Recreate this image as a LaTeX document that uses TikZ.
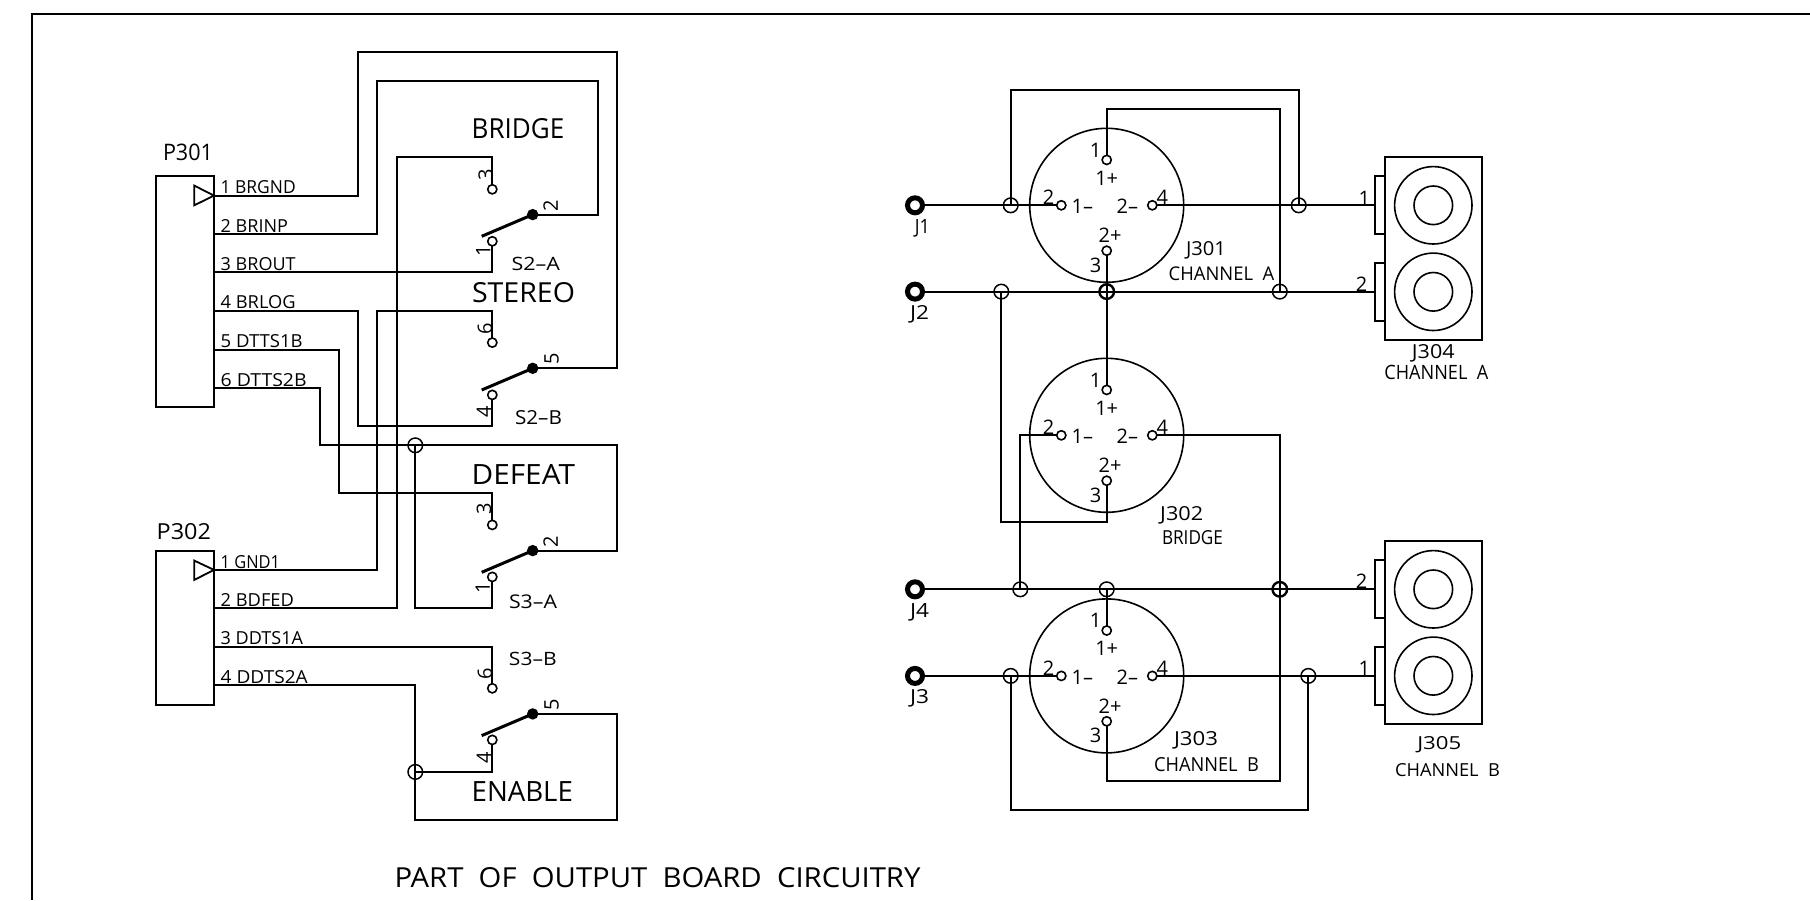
\documentclass[tikz,border=0pt]{standalone}
\usepackage{fontspec}
\usepackage{graphicx}
\setmainfont{Open Sans}
\newdimen\pxu \pxu=.5pt
\tikzset{
  wire/.style={line width=.9pt,line join=miter},
  box/.style={draw,line width=.9pt,rectangle,inner sep=0pt,outer sep=0pt},
  pin/.style={draw,line width=.8pt,circle,inner sep=0pt,outer sep=0pt,minimum size=9.2\pxu},
  jct/.style={draw,line width=.75pt,circle,inner sep=0pt,outer sep=0pt,minimum size=14.6\pxu},
  jctb/.style={jct,line width=1.2pt},
  sdot/.style={draw,fill=black,circle,inner sep=0pt,outer sep=0pt,minimum size=9.5\pxu},
  ring/.style={draw,line width=2.5pt,circle,inner sep=0pt,outer sep=0pt,minimum size=15\pxu},
  blade/.style={line width=1.5pt},
  plain/.style={inner sep=0pt,outer sep=0pt},
  digit/.style={plain,font=\fontsize{10}{10}\selectfont},
}
% fitted text: name, x, y, width, height, text
\newcommand{\TC}[6]{\node[plain] (#1) at (#2,#3) {\resizebox{#4\pxu}{#5\pxu}{#6}};}
\newcommand{\TL}[5]{\node[plain,anchor=south west] (#1) at (220.7,#2) {\resizebox{#3\pxu}{#4\pxu}{#5}};}
% XLR connector: name, centre y
\newcommand{\XLR}[2]{
  \node[draw,line width=.8pt,circle,inner sep=0pt,outer sep=0pt,minimum size=154\pxu] (#1) at (1106.7,#2) {};
  \node[pin] (#1-p1) at (1106.7,{#2-45.4}) {};
  \node[pin] (#1-p2) at (1061.3,#2) {};
  \node[pin] (#1-p3) at (1106.7,{#2+45.4}) {};
  \node[pin] (#1-p4) at (1152.3,#2) {};
  \node[digit] (#1-n1) at (1095.7,{#2-55.4}) {1};
  \node[digit] (#1-n2) at (1048.7,{#2-8}) {2};
  \node[digit] (#1-n3) at (1095.7,{#2+59.6}) {3};
  \node[digit] (#1-n4) at (1162.3,{#2-8}) {4};
  \node[digit] (#1-l1) at (1106.7,{#2-27.4}) {1+};
  \node[digit] (#1-l2) at (1082.3,{#2+1.3}) {1–};
  \node[digit] (#1-l3) at (1127.3,{#2+1.3}) {2–};
  \node[digit] (#1-l4) at (1110,{#2+30.3}) {2+};
}
% double phono jack: name, top y
\newcommand{\JACK}[2]{
  \node[box,minimum width=96.7\pxu,minimum height=183\pxu] (#1) at (1433.3,{#2+91.5}) {};
  \node[box,minimum width=9.7\pxu,minimum height=58\pxu] (#1-t1) at (1380.2,{#2+48.2}) {};
  \node[box,minimum width=9.7\pxu,minimum height=58\pxu] (#1-t2) at (1380.2,{#2+134.7}) {};
  \node[draw,line width=.8pt,circle,inner sep=0pt,minimum size=77.4\pxu] (#1-a) at (1433.3,{#2+48.2}) {};
  \node[draw,line width=.8pt,circle,inner sep=0pt,minimum size=38.6\pxu] (#1-b) at (1433.3,{#2+48.2}) {};
  \node[draw,line width=.8pt,circle,inner sep=0pt,minimum size=77.4\pxu] (#1-c) at (1433.3,{#2+134.7}) {};
  \node[draw,line width=.8pt,circle,inner sep=0pt,minimum size=38.6\pxu] (#1-d) at (1433.3,{#2+134.7}) {};
}
% switch section: prefix, y of pin top, y of pin bottom, y of dot
\newcommand{\SW}[4]{
  \node[pin] (#1-nc) at (492.3,#2) {};
  \node[pin] (#1-no) at (492.3,#3) {};
  \node[sdot] (#1-dot) at (532.7,#4) {};
  \coordinate (#1-bl) at (481.7,{#4+21.7});
  \draw[blade] (#1-bl) -- (#1-dot.center);
}
\begin{document}
\begin{tikzpicture}[x=.5pt,y=-.5pt,wire]
\useasboundingbox (0,-0.6) rectangle (1810,899.4);
\fill[white] (0,-0.6) rectangle (1810,899.4);
% frame
\coordinate (fa) at (32,899.4); \coordinate (fb) at (32,13); \coordinate (fc) at (1810,13);
\draw[line width=1pt] (fa) -- (fb) -- (fc);

% ---------- left part ----------
\node[box,minimum width=58\pxu,minimum height=230.6\pxu] (P301) at (185,291) {};
\node[box,minimum width=58\pxu,minimum height=154\pxu] (P302) at (185,627) {};
\coordinate (A1) at (214,195); \coordinate (A2) at (214,233.3); \coordinate (A3) at (214,271.7);
\coordinate (A4) at (214,310.3); \coordinate (A5) at (214,349); \coordinate (A6) at (214,387);
\coordinate (B1) at (214,569.3); \coordinate (B2) at (214,607.7); \coordinate (B3) at (214,646.3); \coordinate (B4) at (214,684.7);
\draw (194.3,185) -- (A1) -- (194.3,204.7) -- cycle;
\draw (194.3,560) -- (B1) -- (194.3,579.3) -- cycle;

\SW{S2A}{188.7}{240.7}{214}
\SW{S2B}{342}{394.3}{367.7}
\SW{S3A}{524.3}{576.3}{550}
\SW{S3B}{687.7}{739.3}{713.3}
\node[jct] (J-a) at (415.3,444.7) {};
\node[jct] (J-b) at (415.3,771.3) {};

\draw (A1) -| (358,51) -| (617.3,367.7) -- (S2B-dot.center);
\draw (A2) -| (377.3,80) -| (598,214) -- (S2A-dot.center);
\draw (A3) -| (S2A-no.south);
\draw (B2) -| (396.7,156.7) -| (S2A-nc.north);
\draw (A4) -| (358,425.7) -| (S2B-no.south);
\draw (B1) -| (377.3,310.3) -| (S2B-nc.north);
\draw (A5) -| (339,492.3) -| (S3A-nc.north);
\draw (A6) -| (320,444.7) -| (617.3,550) -- (S3A-dot.center);
\draw (J-a.center) |- (492.3,607.7) -- (S3A-no.south);
\draw (B3) -| (S3B-nc.north);
\draw (B4) -| (415.3,819) -| (617.3,713.3) -- (S3B-dot.center);
\draw (J-b.center) -| (S3B-no.south);

\TC{tP301}{188}{151.5}{50}{16.5}{P301}
\TC{tP302}{183.8}{530.7}{54.3}{16}{P302}
\TL{a1}{193.3}{75}{13}{1 BRGND}
\TL{a2}{231.7}{67.3}{13}{2 BRINP}
\TL{a3}{270}{75}{13}{3 BROUT}
\TL{a4}{308}{75}{13}{4 BRLOG}
\TL{a5}{346.7}{82}{13}{5 DTTS1B}
\TL{a6}{385.7}{86}{13}{6 DTTS2B}
\TL{b1}{568.3}{59.3}{13}{1 GND1}
\TL{b2}{606}{73.3}{13}{2 BDFED}
\TL{b3}{644}{82.3}{13}{3 DDTS1A}
\TL{b4}{682.7}{87}{13}{4 DDTS2A}
\TC{tBr}{518}{128}{92.6}{20}{BRIDGE}
\TC{tSt}{523.5}{291.7}{103}{20}{STEREO}
\TC{tDe}{523.3}{473.8}{103.3}{20}{DEFEAT}
\TC{tEn}{522.3}{790.7}{101.3}{20}{ENABLE}
\TC{tS2A}{535.8}{263.3}{48.3}{13.3}{S2–A}
\TC{tS2B}{538.5}{417}{47}{14}{S2–B}
\TC{tS3A}{533}{600.8}{48}{13.7}{S3–A}
\TC{tS3B}{532.8}{658.3}{47.7}{13.3}{S3–B}
\TC{tTitle}{657.5}{877.2}{526}{20}{PART\ \ OF\ \ OUTPUT\ \ BOARD\ \ CIRCUITRY}
% rotated pin numbers
\node[digit,rotate=90] (s1) at (485.7,174) {3};
\node[digit,rotate=90] (s2) at (550.7,205) {2};
\node[digit,rotate=90] (s3) at (483.3,250) {1};
\node[digit,rotate=90] (s4) at (485,327.7) {6};
\node[digit,rotate=90] (s5) at (551.7,358.3) {5};
\node[digit,rotate=90] (s6) at (484,411) {4};
\node[digit,rotate=90] (s7) at (484,508.3) {3};
\node[digit,rotate=90] (s8) at (550.7,541) {2};
\node[digit,rotate=90] (s9) at (482.7,586.7) {1};
\node[digit,rotate=90] (s10) at (485,673.3) {6};
\node[digit,rotate=90] (s11) at (551.7,704.3) {5};
\node[digit,rotate=90] (s12) at (484,756.7) {4};

% ---------- right part ----------
\XLR{X1}{204.7}
\XLR{X2}{434.7}
\XLR{X3}{675.3}
\JACK{J304}{156.5}
\JACK{J305}{540.5}
\node[ring] (J1) at (915,204.7) {};
\node[ring] (J2) at (915,291) {};
\node[ring] (J4) at (915,588.7) {};
\node[ring] (J3) at (915,675.3) {};
\node[jct] (c1) at (1010.7,204.7) {};
\node[jct] (c2) at (1298.7,204.7) {};
\node[jct] (c3) at (1001.3,291) {};
\node[jctb] (c4) at (1106.7,291) {};
\node[jct] (c5) at (1279.8,291) {};
\node[jct] (c6) at (1020.3,588.7) {};
\node[jct] (c7) at (1106.7,588.7) {};
\node[jctb] (c8) at (1279.8,588.7) {};
\node[jct] (c9) at (1010.7,675.3) {};
\node[jct] (c10) at (1308.3,675.3) {};

\draw (J1.east) -- (X1-p2.west);
\draw (X1-p4.east) -- (X1-p4.east -| J304-t1.west);
\draw (c1.center) |- (1298.7,89.7) -- (c2.center);
\draw (X1-p1.north) |- (1279.8,108.3) -- (c5.center);
\draw (X1-p3.south) -- (X2-p1.north);
\draw (J2.east) -- (J2.east -| J304-t2.west);
\draw (c3.center) |- (1106.7,521.3) -- (X2-p3.south);
\draw (X2-p2.west) -| (c6.center);
\draw (X2-p4.east) -| (1279.8,780) -| (X3-p3.south);
\draw (J4.east) -- (J4.east -| J305-t1.west);
\draw (c7.center) -- (X3-p1.north);
\draw (J3.east) -- (X3-p2.west);
\draw (X3-p4.east) -- (X3-p4.east -| J305-t2.west);
\draw (c9.center) |- (1308.3,809.3) -- (c10.center);

\TC{tJ1}{922.3}{227.7}{15}{14}{J1}
\TC{tJ2}{919.5}{314}{19}{14}{J2}
\TC{tJ4}{919.5}{611.5}{19}{14}{J4}
\TC{tJ3}{919.5}{698}{19}{14}{J3}
\TC{tJ301}{1206}{249.8}{40}{14}{J301}
\TC{tCHa}{1221.5}{272.8}{105.6}{13.7}{CHANNEL\ \ A}
\TC{tJ302}{1181.7}{514.3}{43}{14}{J302}
\TC{tBr2}{1192.5}{537}{61}{14}{BRIDGE}
\TC{tJ303}{1196}{739.5}{44}{14}{J303}
\TC{tCHb}{1206.5}{764}{105}{14}{CHANNEL\ \ B}
\TC{tJ304}{1433.3}{352.3}{42.7}{14}{J304}
\TC{tCHc}{1436.3}{372.2}{104}{14.3}{CHANNEL\ \ A}
\TC{tJ305}{1439.3}{744}{44}{13}{J305}
\TC{tCHd}{1447.5}{769.7}{105}{13}{CHANNEL\ \ B}
\node[digit] (k1) at (1364.3,197.7) {1};
\node[digit] (k2) at (1361.7,283.3) {2};
\node[digit] (k3) at (1361.7,581) {2};
\node[digit] (k4) at (1364.3,667.3) {1};
\end{tikzpicture}
\end{document}
